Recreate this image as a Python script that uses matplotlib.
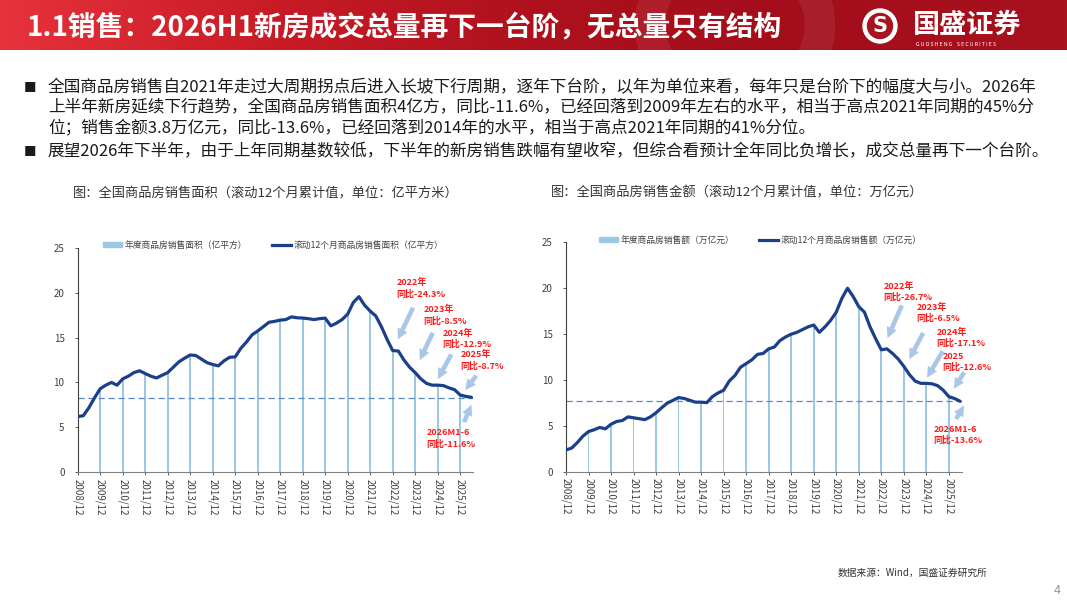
import matplotlib
matplotlib.use("Agg")
import matplotlib.pyplot as plt
import matplotlib.patches as mpatches
from matplotlib.colors import LinearSegmentedColormap
from matplotlib.lines import Line2D
import numpy as np

plt.rcParams['font.family'] = ['Noto Sans CJK SC', 'DejaVu Sans']
plt.rcParams['axes.unicode_minus'] = False

W, H = 1067, 600

# 季度数据点, 以2008/12为0的月份序号
quarter_months = list(range(0, 211, 3))
year_months = [12 * i for i in range(18)]
year_labels = [f"{y}/12" for y in range(2008, 2026)]

# 滚动12个月商品房销售面积 (亿平方米), 2008/12 ~ 2026/06 每季度
area_roll = [6.2,
             6.3, 7.2, 8.3, 9.3,
             9.7, 10.0, 9.7, 10.4,
             10.7, 11.1, 11.3, 10.99,
             10.7, 10.5, 10.8, 11.1,
             11.7, 12.3, 12.7, 13.06,
             13.0, 12.6, 12.2, 12.0,
             11.85, 12.4, 12.8, 12.85,
             13.8, 14.5, 15.3, 15.73,
             16.2, 16.7, 16.8, 16.94,
             17.0, 17.3, 17.2, 17.17,
             17.1, 17.0, 17.1, 17.16,
             16.3, 16.6, 17.0, 17.61,
             18.9, 19.55, 18.6, 17.94,
             17.4, 16.2, 14.8, 13.55,
             13.5, 12.5, 11.7, 11.1,
             10.4, 9.9, 9.7, 9.7,
             9.65, 9.4, 9.2, 8.6,
             8.45, 8.35]
area_year = [6.2, 9.3, 10.4, 10.99, 11.1, 13.06, 12.0, 12.85, 15.73, 16.94,
             17.17, 17.16, 17.61, 17.94, 13.55, 11.1, 9.7, 8.6]
area_level = 8.25

# 滚动12个月商品房销售额 (万亿元)
amount_roll = [2.4,
               2.6, 3.2, 3.9, 4.4,
               4.6, 4.85, 4.7, 5.2,
               5.5, 5.6, 6.0, 5.9,
               5.8, 5.7, 6.0, 6.45,
               7.0, 7.5, 7.8, 8.1,
               8.0, 7.8, 7.6, 7.6,
               7.55, 8.2, 8.6, 8.9,
               9.9, 10.5, 11.4, 11.8,
               12.2, 12.8, 12.9, 13.4,
               13.6, 14.3, 14.7, 15.0,
               15.2, 15.5, 15.8, 16.0,
               15.2, 15.8, 16.5, 17.4,
               18.9, 20.0, 19.1, 18.0,
               17.4, 15.8, 14.5, 13.3,
               13.4, 12.9, 12.3, 11.5,
               10.6, 9.9, 9.65, 9.65,
               9.6, 9.4, 8.9, 8.2,
               8.0, 7.7]
amount_year = [2.4, 4.4, 5.2, 5.9, 6.45, 8.1, 7.6, 8.9, 11.8, 13.4,
               15.0, 16.0, 17.4, 18.0, 13.3, 11.5, 9.65, 8.2]
amount_level = 7.73

area_legend = ["年度商品房销售面积（亿平方）", "滚动12个月商品房销售面积（亿平方）"]
amount_legend = ["年度商品房销售额（万亿元）", "滚动12个月商品房销售额（万亿元）"]

area_notes = ["2022年\n同比-24.3%", "2023年\n同比-8.5%", "2024年\n同比-12.9%",
              "2025年\n同比-8.7%", "2026M1-6\n同比-11.6%"]
amount_notes = ["2022年\n同比-26.7%", "2023年\n同比-6.5%", "2024年\n同比-17.1%",
                "2025\n同比-12.6%", "2026M1-6\n同比-13.6%"]

# 注释位置: (文字左上角, 箭头尾, 箭头头)
area_note_pos = [((170, 21.6), (179.5, 18.6), (170.1, 14.5)),
                 ((184.5, 18.6), (190.0, 15.8), (181.8, 12.2)),
                 ((194.6, 16.0), (200.0, 13.4), (191.4, 10.1)),
                 ((204.2, 13.6), (213.5, 11.0), (205.8, 8.9)),
                 ((186.1, 4.9), (205.5, 5.3), (210.6, 7.8))]
amount_note_pos = [((169.2, 20.7), (179.5, 18.4), (170.7, 14.3)),
                   ((186.6, 18.4), (191.0, 15.4), (182.2, 12.0)),
                   ((197.3, 15.7), (201.5, 13.4), (191.6, 10.0)),
                   ((200.5, 13.1), (213.0, 11.1), (205.8, 8.8)),
                   ((195.8, 5.1), (207.0, 5.5), (212.9, 7.5))]

BAR_C = '#9DC8E4'
LINE_C = '#1C3F8C'
DASH_C = '#5A8AC6'
ARROW_C = '#A9C8E8'
RED = '#FF1A1A'


def px(x, y):
    return x / W, 1 - y / H


def draw_panel(ax, roll, annual, level, leg_names, notes, note_pos, leg_anchor):
    ax.bar(year_months, annual, width=0.9, color=BAR_C, zorder=1)
    ax.plot(quarter_months, roll, color=LINE_C, lw=2.3, zorder=3,
            solid_capstyle='round', solid_joinstyle='round')
    ax.axhline(level, color=DASH_C, lw=0.9, ls=(0, (5, 3)), zorder=2)
    ax.set_xlim(0, 211)
    ax.set_ylim(0, 25)
    ax.set_yticks(range(0, 26, 5))
    ax.set_xticks(year_months)
    ax.set_xticklabels(year_labels, rotation=-90)
    for s in ['top', 'right']:
        ax.spines[s].set_visible(False)
    ax.spines['left'].set_color('#404040')
    ax.spines['bottom'].set_color('#808080')
    ax.spines['left'].set_linewidth(0.8)
    ax.spines['bottom'].set_linewidth(0.8)
    ax.tick_params(axis='both', labelsize=7, colors='#404040', length=2.5, width=0.6)
    ax.tick_params(axis='y', pad=7)
    ax.tick_params(axis='x', pad=2)

    handles = [mpatches.Patch(color=BAR_C),
               Line2D([], [], color=LINE_C, lw=2.3)]
    leg = ax.legend(handles, leg_names, ncol=2, frameon=False, fontsize=6.3,
                    loc='center left', bbox_to_anchor=leg_anchor,
                    borderpad=0, borderaxespad=0, handlelength=2.2,
                    handleheight=0.4, handletextpad=0.3, columnspacing=2.8)
    for t in leg.get_texts():
        t.set_color('#404040')

    for s, (txt, tail, head) in zip(notes, note_pos):
        ax.text(txt[0], txt[1], s, color=RED, fontsize=6.5, fontweight='bold',
                va='top', ha='left', linespacing=1.25, clip_on=False, zorder=5)
        # 浅色的尾巴 + 实色箭头, 模拟渐变
        ax.annotate('', xy=head, xytext=tail, annotation_clip=False, zorder=4,
                    arrowprops=dict(arrowstyle='simple,head_length=0.7,head_width=0.7,tail_width=0.3',
                                    fc=ARROW_C, ec='none', mutation_scale=11))


fig = plt.figure(figsize=(W / 100, H / 100), dpi=100)

bg = fig.add_axes([0, 0, 1, 1], zorder=-1)
bg.set_axis_off()
hdr = LinearSegmentedColormap.from_list('hdr', ['#E6323B', '#C81C27', '#AE111D', '#A20E1A', '#A8121E'])
bg.imshow(np.linspace(0, 1, 256)[None, :], extent=(0, W, 50, 0), aspect='auto', cmap=hdr)
bg.add_patch(mpatches.Arc((735, 25), 170, 150, theta1=110, theta2=250, lw=22, color='white', alpha=0.07))
bg.add_patch(mpatches.Arc((735, 25), 170, 150, theta1=-70, theta2=70, lw=22, color='white', alpha=0.07))
bg.add_patch(mpatches.Circle((880, 26), 17, color='white'))
bg.add_patch(mpatches.Circle((880, 26), 12.5, color='#A81320'))
bg.set_xlim(0, W)
bg.set_ylim(H, 0)

fig.text(*px(880, 26), 'S', color='white', fontsize=15, fontweight='bold', ha='center', va='center',
         family=['DejaVu Sans'])
fig.text(*px(913, 25), '国盛证券', color='white', fontsize=19.5, fontweight='bold', va='center')
fig.text(*px(916, 45), 'G U O S H E N G    S E C U R I T I E S', color='white', fontsize=3.8, va='center')
fig.text(*px(27, 27), '1.1销售：2026H1新房成交总量再下一台阶，无总量只有结构', color='white',
         fontsize=20, fontweight='bold', va='center')

body = ["全国商品房销售自2021年走过大周期拐点后进入长坡下行周期，逐年下台阶，以年为单位来看，每年只是台阶下的幅度大与小。2026年",
        "上半年新房延续下行趋势，全国商品房销售面积4亿方，同比-11.6%，已经回落到2009年左右的水平，相当于高点2021年同期的45%分",
        "位；销售金额3.8万亿元，同比-13.6%，已经回落到2014年的水平，相当于高点2021年同期的41%分位。"]
for i, line in enumerate(body):
    fig.text(*px(48, 88 + 20 * i), line, fontsize=12, color='#1a1a1a', va='center')
fig.text(*px(48, 152), "展望2026年下半年，由于上年同期基数较低，下半年的新房销售跌幅有望收窄，但综合看预计全年同比负增长，成交总量再下一个台阶。",
         fontsize=12, color='#1a1a1a', va='center')
for y in (88, 152):
    fig.text(*px(30, y), '■', fontsize=9, color='#1a1a1a', va='center', ha='center')

fig.text(*px(73, 193), '图：全国商品房销售面积（滚动12个月累计值，单位：亿平方米）', fontsize=9.5,
         color='#333333', va='center')
fig.text(*px(551, 193), '图：全国商品房销售金额（滚动12个月累计值，单位：万亿元）', fontsize=9.5,
         color='#333333', va='center')
fig.text(*px(838, 573), '数据来源：Wind，国盛证券研究所', fontsize=7, color='#333333', va='center')
fig.text(*px(1057, 591), '4', fontsize=9, color='#999999', va='center', ha='center')

ax1 = fig.add_axes([77.7 / W, 1 - 472.3 / H, 395.6 / W, 224.6 / H])
draw_panel(ax1, area_roll, area_year, area_level, area_legend, area_notes, area_note_pos,
           (0.064, 1.012))
ax2 = fig.add_axes([566 / W, 1 - 472 / H, 396 / W, 229.7 / H])
draw_panel(ax2, amount_roll, amount_year, amount_level, amount_legend, amount_notes, amount_note_pos,
           (0.083, 1.01))

fig.savefig('out.png', dpi=100)
